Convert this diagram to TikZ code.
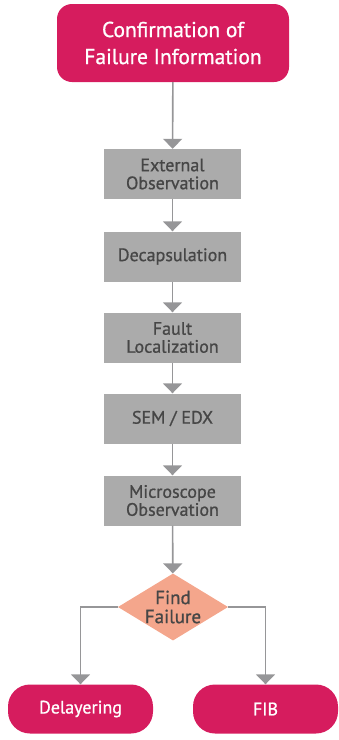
\documentclass[tikz,border=0pt]{standalone}
\usepackage{fontspec}
\setmainfont{PT Sans}[BoldFont={PT Sans}, BoldFeatures={FakeBold=0.9}]
\usetikzlibrary{shapes.geometric,arrows.meta}
\definecolor{failred}{RGB}{214,28,94}
\definecolor{stepgray}{RGB}{171,171,171}
\definecolor{linegray}{RGB}{150,150,152}
\definecolor{salmon}{RGB}{244,166,140}
\definecolor{textgray}{RGB}{70,70,70}
\tikzset{
  startbox/.style={fill=failred, rounded corners=15pt, text=white, align=center,
    minimum width=232pt, minimum height=78pt, font=\bfseries\fontsize{21.5}{27}\selectfont},
  endbox/.style={fill=failred, rounded corners=22pt, text=white,
    minimum width=145pt, minimum height=49pt, font=\bfseries\fontsize{18}{19}\selectfont},
  stepbox/.style={fill=stepgray, text=textgray, align=center,
    minimum width=137pt, minimum height=50pt, font=\bfseries\fontsize{18}{18}\selectfont},
  choice/.style={diamond, fill=salmon, text=textgray, align=center, aspect=1.65,
    minimum width=110pt, minimum height=67pt, inner sep=0pt, font=\bfseries\fontsize{19}{19}\selectfont},
  link/.style={draw=linegray, line width=1.6pt, -{Triangle[width=19pt,length=10pt]}},
}
\begin{document}
\begin{tikzpicture}[x=1pt,y=-1pt]
  \useasboundingbox (0,0) rectangle (339,740);
  \node[startbox] (info) at (173,43) {Confirmation of\\Failure Information};
  \node[stepbox] (ext) at (172.5,174) {External\\Observation};
  \node[stepbox] (decap) at (172.5,256.5) {Decapsulation};
  \node[stepbox] (fault) at (172.5,337.5) {Fault\\Localization};
  \node[stepbox] (sem) at (172.5,418.5) {SEM / EDX};
  \node[stepbox] (micro) at (172.5,500.5) {Microscope\\Observation};
  \node[choice] (find) at (173,607) {Find\\Failure};
  \node[endbox] (delay) at (80.5,709) {Delayering};
  \node[endbox] (fib) at (265.5,709) {FIB};
  % main chain
  \draw[link] (info) -- (ext);
  \draw[link] (ext) -- (decap);
  \draw[link] (decap) -- (fault);
  \draw[link] (fault) -- (sem);
  \draw[link] (sem) -- (micro);
  \draw[link] (micro) -- (find);
  % branches
  \draw[link] (find.west) -| (delay.north);
  \draw[link] (find.east) -| (fib.north);
\end{tikzpicture}
\end{document}
